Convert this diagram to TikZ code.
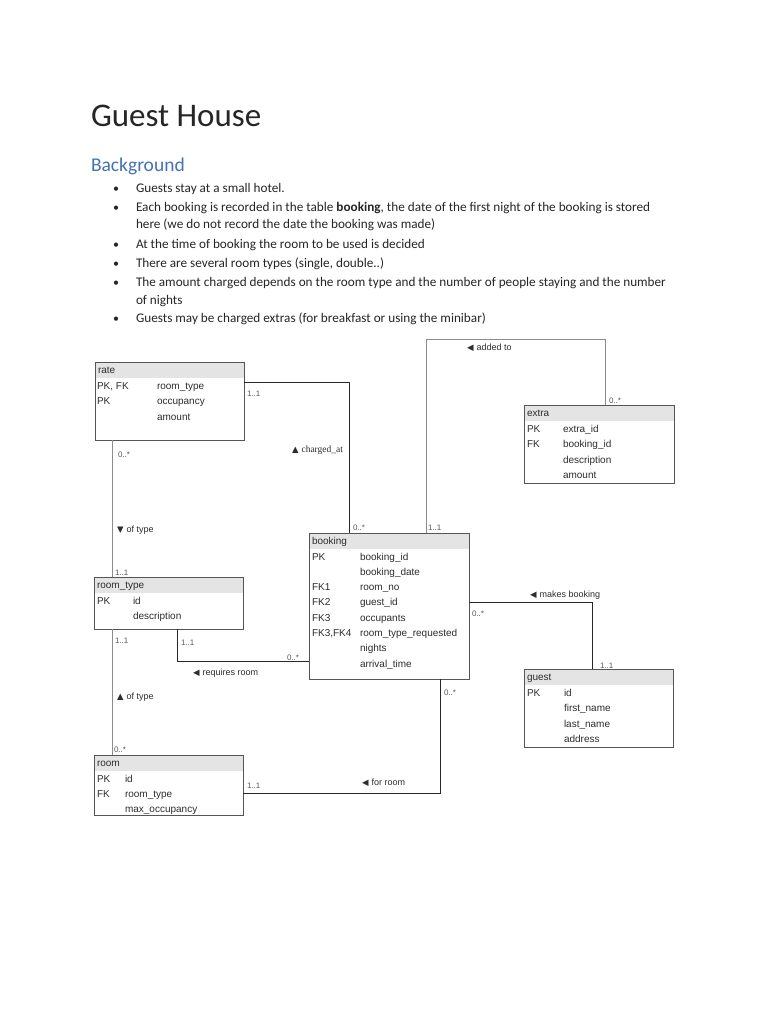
\documentclass[tikz,border=0pt]{standalone}
\usepackage{fontspec}
\setmainfont{Carlito}
\newfontfamily\arfont{Liberation Sans}
\newfontfamily\tmfont{Liberation Serif}
\newfontfamily\dvfont{DejaVu Sans}
\usetikzlibrary{calc}
\definecolor{hblue}{RGB}{68,114,180}
\definecolor{boxline}{RGB}{85,85,85}
\definecolor{hdrfill}{RGB}{228,228,228}
\definecolor{conndark}{RGB}{40,40,40}
\definecolor{conngray}{RGB}{140,140,140}
\definecolor{txt}{RGB}{45,45,45}
\newcommand\mktable[6]{%
  \fill[hdrfill] (#2,#3) rectangle ++(#4,16);
  \node[tbl, minimum width=#4pt, minimum height=#5pt] (#1) at (#2,#3) {};
  \node[fld] (#1-title) at (#2+3,#3+11) {#6};
}
\newcommand\tri[1]{{\dvfont\fontsize{8.5}{9}\selectfont #1}\hspace{3pt}}
\begin{document}
\begin{tikzpicture}[x=1pt,y=-1pt,
  every node/.style={inner sep=0pt, outer sep=0pt},
  tbl/.style={draw=boxline, line width=0.9pt, rectangle, anchor=north west},
  fld/.style={anchor=base west, font=\arfont\fontsize{10}{12}\selectfont, text=txt},
  mult/.style={anchor=base west, font=\arfont\fontsize{8}{10}\selectfont, text=black!65},
  rel/.style={anchor=base west, font=\arfont\fontsize{9}{11}\selectfont, text=txt},
  conn/.style={draw=conndark, line width=0.85pt},
  conng/.style={draw=conngray, line width=0.85pt},
  body/.style={anchor=base west, font=\fontsize{13.2}{16}\selectfont, text=black!85},
  dot/.style={anchor=base west, font=\fontsize{12}{16}\selectfont, text=black!85},
]
\fill[white] (0,0) rectangle (768,1024);
\useasboundingbox (0,0) rectangle (768,1024);

% ---------- heading text ----------
\node[anchor=base west, font=\fontsize{33}{40}\selectfont, text=black!85] (title) at (91,127) {Guest House};
\node[anchor=base west, font=\fontsize{19.5}{23}\selectfont, text=hblue] (bg) at (91,172) {Background};

\node[dot] (d1) at (113,193) {•};
\node[body] (b1) at (136,193) {Guests stay at a small hotel.};
\node[dot] (d2) at (113,212) {•};
\node[body] (b2) at (136,212) {Each booking is recorded in the table \textbf{booking}, the date of the first night of the booking is stored};
\node[body] (b2b) at (136,229) {here (we do not record the date the booking was made)};
\node[dot] (d3) at (113,248) {•};
\node[body] (b3) at (136,248) {At the time of booking the room to be used is decided};
\node[dot] (d4) at (113,267) {•};
\node[body] (b4) at (136,267) {There are several room types (single, double..)};
\node[dot] (d5) at (113,286) {•};
\node[body] (b5) at (136,286) {The amount charged depends on the room type and the number of people staying and the number};
\node[body] (b5b) at (136,304) {of nights};
\node[dot] (d6) at (113,322) {•};
\node[body] (b6) at (136,322) {Guests may be charged extras (for breakfast or using the minibar)};

% ---------- tables ----------
\mktable{rate}{95}{362}{149}{78}{rate}
\node[fld] (rate-k1) at (97,389) {PK, FK};
\node[fld] (rate-f1) at (157,389) {room\_type};
\node[fld] (rate-k2) at (97,404) {PK};
\node[fld] (rate-f2) at (157,404) {occupancy};
\node[fld] (rate-f3) at (157,420) {amount};

\mktable{extra}{524}{405}{150}{78}{extra}
\node[fld] (extra-k1) at (527,432) {PK};
\node[fld] (extra-f1) at (563,432) {extra\_id};
\node[fld] (extra-k2) at (527,447) {FK};
\node[fld] (extra-f2) at (563,447) {booking\_id};
\node[fld] (extra-f3) at (563,463) {description};
\node[fld] (extra-f4) at (563,478) {amount};

\mktable{booking}{309}{533}{160}{146}{booking}
\node[fld] (bk-k1) at (312,560) {PK};
\node[fld] (bk-f1) at (360,560) {booking\_id};
\node[fld] (bk-f2) at (360,575.3) {booking\_date};
\node[fld] (bk-k3) at (312,590.6) {FK1};
\node[fld] (bk-f3) at (360,590.6) {room\_no};
\node[fld] (bk-k4) at (312,605.9) {FK2};
\node[fld] (bk-f4) at (360,605.9) {guest\_id};
\node[fld] (bk-k5) at (312,621.2) {FK3};
\node[fld] (bk-f5) at (360,621.2) {occupants};
\node[fld] (bk-k6) at (312,636.5) {FK3,FK4};
\node[fld] (bk-f6) at (360,636.5) {room\_type\_requested};
\node[fld] (bk-f7) at (360,651.8) {nights};
\node[fld] (bk-f8) at (360,667.1) {arrival\_time};

\mktable{roomtype}{94}{577}{149}{52}{room\_type}
\node[fld] (rt-k1) at (97,604) {PK};
\node[fld] (rt-f1) at (133,604) {id};
\node[fld] (rt-f2) at (133,619) {description};

\mktable{room}{94}{755}{149}{60}{room}
\node[fld] (rm-k1) at (97,782) {PK};
\node[fld] (rm-f1) at (125,782) {id};
\node[fld] (rm-k2) at (97,797) {FK};
\node[fld] (rm-f2) at (125,797) {room\_type};
\node[fld] (rm-f3) at (125,812) {max\_occupancy};

\mktable{guest}{524}{669}{149}{78}{guest}
\node[fld] (gu-k1) at (527,696) {PK};
\node[fld] (gu-f1) at (564,696) {id};
\node[fld] (gu-f2) at (564,711) {first\_name};
\node[fld] (gu-f3) at (564,727) {last\_name};
\node[fld] (gu-f4) at (564,742) {address};

% ---------- connectors ----------
\draw[conn] ([yshift=-20pt]rate.north east) -| ([xshift=40pt]booking.north west);
\draw[conng] ([xshift=117pt]booking.north west) -- ++(0,-194) -| ([xshift=81pt]extra.north west);
\draw[conn] ([yshift=-69pt]booking.north east) -| ([xshift=68pt]guest.north west);
\draw[conng] ([xshift=17pt]rate.south west) -- ([xshift=18pt]roomtype.north west);
\draw[conn] ([xshift=83pt]roomtype.south west) |- ([yshift=-128pt]booking.north west);
\draw[conng] ([xshift=18pt]roomtype.south west) -- ([xshift=18pt]room.north west);
\draw[conn] ([yshift=-38pt]room.north east) -| ([xshift=131pt]booking.south west);

% ---------- multiplicities ----------
\node[mult] (m1) at (247,396) {1..1};
\node[mult] (m2) at (353,530) {0..*};
\node[mult] (m3) at (118,457) {0..*};
\node[mult] (m4) at (115,575) {1..1};
\node[mult] (m5) at (609,403) {0..*};
\node[mult] (m6) at (428,530) {1..1};
\node[mult] (m7) at (472,616) {0..*};
\node[mult] (m8) at (600,668) {1..1};
\node[mult] (m9) at (115,643) {1..1};
\node[mult] (m10) at (181,645) {1..1};
\node[mult] (m11) at (287,660) {0..*};
\node[mult] (m12) at (114,752) {0..*};
\node[mult] (m13) at (247,788) {1..1};
\node[mult] (m14) at (444,695) {0..*};

% ---------- relationship labels ----------
\node[rel, font=\tmfont\fontsize{9.5}{11}\selectfont] (r1) at (292,452) {\tri{▲}charged\_at};
\node[rel] (r2) at (117,532) {\tri{▼}of type};
\node[rel] (r3) at (467,350) {\tri{◀}added to};
\node[rel] (r4) at (530,597) {\tri{◀}makes booking};
\node[rel] (r5) at (193,675) {\tri{◀}requires room};
\node[rel] (r6) at (117,699) {\tri{▲}of type};
\node[rel] (r7) at (362,785) {\tri{◀}for room};
\end{tikzpicture}
\end{document}
